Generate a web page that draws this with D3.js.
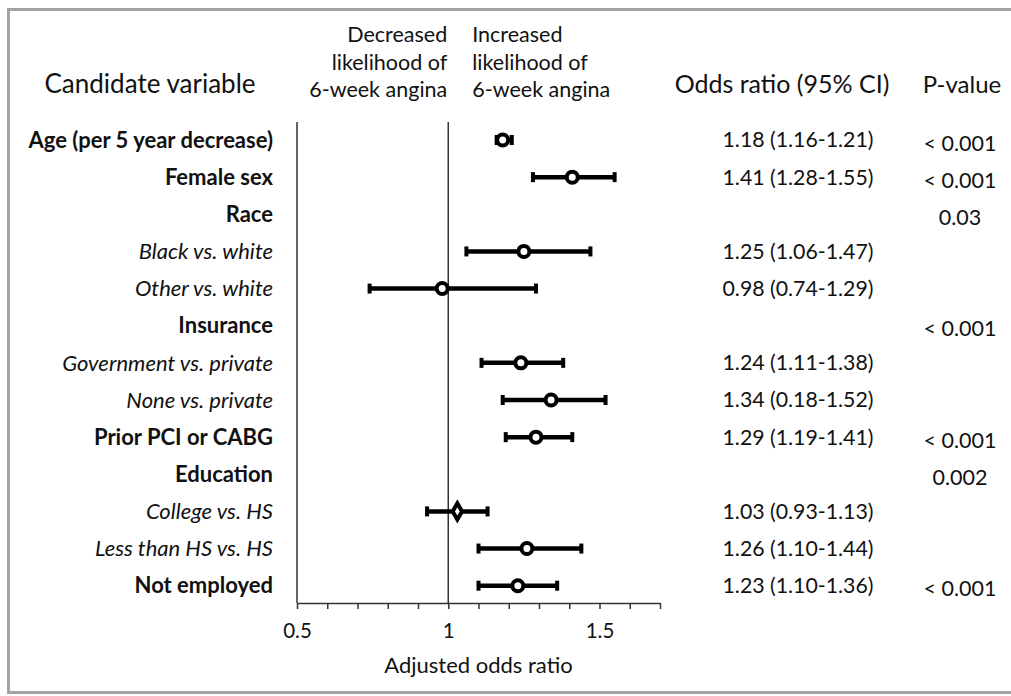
<!DOCTYPE html>
<html>
<head>
<meta charset="utf-8">
<script src="https://cdn.jsdelivr.net/npm/d3@7"></script>
<style>
  html, body { margin: 0; padding: 0; background: #fff; }
  svg { display: block; }
  text { font-family: Lato, "Open Sans", sans-serif; fill: #111; }
</style>
</head>
<body>
<svg id="chart" width="1011" height="696"></svg>
<script>
// ---- data ----
const variables = [
  "Age (per 5 year decrease)", "Female sex", "Race", "Black vs. white", "Other vs. white",
  "Insurance", "Government vs. private", "None vs. private", "Prior PCI or CABG",
  "Education", "College vs. HS", "Less than HS vs. HS", "Not employed"
];
const level = [0, 0, 0, 1, 1, 0, 1, 1, 0, 0, 1, 1, 0];
const oddsRatio = [1.18, 1.41, null, 1.25, 0.98, null, 1.24, 1.34, 1.29, null, 1.03, 1.26, 1.23];
const ciLow     = [1.16, 1.28, null, 1.06, 0.74, null, 1.11, 1.18, 1.19, null, 0.93, 1.10, 1.10];
const ciHigh    = [1.21, 1.55, null, 1.47, 1.29, null, 1.38, 1.52, 1.41, null, 1.13, 1.44, 1.36];
const ciText = [
  "1.18 (1.16-1.21)", "1.41 (1.28-1.55)", "", "1.25 (1.06-1.47)", "0.98 (0.74-1.29)",
  "", "1.24 (1.11-1.38)", "1.34 (0.18-1.52)", "1.29 (1.19-1.41)", "", "1.03 (0.93-1.13)",
  "1.26 (1.10-1.44)", "1.23 (1.10-1.36)"
];
const pValues = [
  "< 0.001", "< 0.001", "0.03", "", "", "< 0.001", "", "", "< 0.001", "0.002", "", "", "< 0.001"
];
const markerShape = ["circle","circle","","circle","circle","","circle","circle","circle","","diamond","circle","circle"];
const xTicks = [0.5, 0.6, 0.7, 0.8, 0.9, 1.0, 1.1, 1.2, 1.3, 1.4, 1.5, 1.6, 1.7];
const xTickLabels = {0.5: "0.5", 1: "1", 1.5: "1.5"};
const xTitle = "Adjusted odds ratio";
const leftNote = ["Decreased", "likelihood of", "6-week angina"];
const rightNote = ["Increased", "likelihood of", "6-week angina"];
const headers = {variable: "Candidate variable", ci: "Odds ratio (95% CI)", p: "P-value"};

// ---- layout ----
const svg = d3.select("#chart");
const x = d3.scaleLinear().domain([0.5, 1.7]).range([297, 660]);
const y = d3.scalePoint().domain(d3.range(variables.length)).range([140, 585.7]);
const axisY = 603, plotTop = 122;

// border
svg.append("rect").attr("x", 8.5).attr("y", 9.5).attr("width", 1020).attr("height", 683)
  .attr("fill", "none").attr("stroke", "#a3a3a3").attr("stroke-width", 3);

// headers
svg.append("text").attr("x", 150).attr("y", 93).attr("text-anchor", "middle")
  .attr("font-size", 26).text(headers.variable);
svg.append("text").attr("x", 782).attr("y", 93).attr("text-anchor", "middle")
  .attr("font-size", 25).text(headers.ci);
svg.append("text").attr("x", 962).attr("y", 93).attr("text-anchor", "middle")
  .attr("font-size", 24).text(headers.p);

leftNote.forEach((t, i) => svg.append("text").attr("x", x(1) - 1).attr("y", 42 + i * 27.5)
  .attr("text-anchor", "end").attr("font-size", 21.5).text(t));
rightNote.forEach((t, i) => svg.append("text").attr("x", x(1) + 24).attr("y", 42 + i * 27.5)
  .attr("text-anchor", "start").attr("font-size", 21.5).text(t));

// row labels
svg.append("g").selectAll("text").data(variables).join("text")
  .attr("x", 273).attr("y", (d, i) => y(i)).attr("dy", "0.35em")
  .attr("text-anchor", "end").attr("font-size", 22)
  .attr("font-weight", (d, i) => level[i] === 0 ? "bold" : "normal")
  .attr("font-style", (d, i) => level[i] === 1 ? "italic" : "normal")
  .text(d => d);

svg.append("g").selectAll("text").data(ciText).join("text")
  .attr("x", 798).attr("y", (d, i) => y(i)).attr("dy", "0.35em")
  .attr("text-anchor", "middle").attr("font-size", 21.3).text(d => d);

svg.append("g").selectAll("text").data(pValues).join("text")
  .attr("x", 960).attr("y", (d, i) => y(i) + 3).attr("dy", "0.35em")
  .attr("text-anchor", "middle").attr("font-size", 21.5).text(d => d);

// axes lines
svg.append("line").attr("x1", x(0.5)).attr("x2", x(0.5)).attr("y1", plotTop).attr("y2", axisY)
  .attr("stroke", "#333").attr("stroke-width", 1.5);
svg.append("line").attr("x1", x(1)).attr("x2", x(1)).attr("y1", plotTop).attr("y2", axisY)
  .attr("stroke", "#333").attr("stroke-width", 1.5);

const xAxis = d3.axisBottom(x).tickValues(xTicks).tickSize(6).tickSizeOuter(0)
  .tickFormat(d => xTickLabels[Math.round(d * 10) / 10] || "");
const gx = svg.append("g").attr("transform", `translate(0,${axisY})`).call(xAxis);
gx.select(".domain").attr("stroke", "#333").attr("stroke-width", 1.5);
gx.selectAll(".tick line").attr("stroke", "#333").attr("stroke-width", 1.5);
gx.selectAll(".tick text").attr("font-size", 20.5).attr("font-family", "Lato, sans-serif")
  .attr("fill", "#111").attr("dy", "1.25em");

svg.append("text").attr("x", (x(0.5) + x(1.7)) / 2).attr("y", 673).attr("text-anchor", "middle")
  .attr("font-size", 22).text(xTitle);

// error bars
const idx = d3.range(variables.length).filter(i => oddsRatio[i] != null);
const g = svg.append("g");
g.selectAll("line.ci").data(idx).join("line").attr("class", "ci")
  .attr("x1", i => x(ciLow[i])).attr("x2", i => x(ciHigh[i]))
  .attr("y1", i => y(i)).attr("y2", i => y(i))
  .attr("stroke", "#000").attr("stroke-width", 4.5);
["lo", "hi"].forEach(k => {
  g.selectAll("rect.cap" + k).data(idx).join("rect").attr("class", "cap" + k)
    .attr("x", i => x(k === "lo" ? ciLow[i] : ciHigh[i]) - 2)
    .attr("y", i => y(i) - 5).attr("width", 4).attr("height", 10).attr("fill", "#000");
});
g.selectAll("path.pt").data(idx).join("path").attr("class", "pt")
  .attr("transform", i => `translate(${x(oddsRatio[i])},${y(i)})`)
  .attr("d", i => markerShape[i] === "diamond"
    ? d3.symbol(d3.symbolDiamond, 75)()
    : d3.symbol(d3.symbolCircle, 95)())
  .attr("fill", "#fff").attr("stroke", "#000").attr("stroke-width", 4);
</script>
</body>
</html>
